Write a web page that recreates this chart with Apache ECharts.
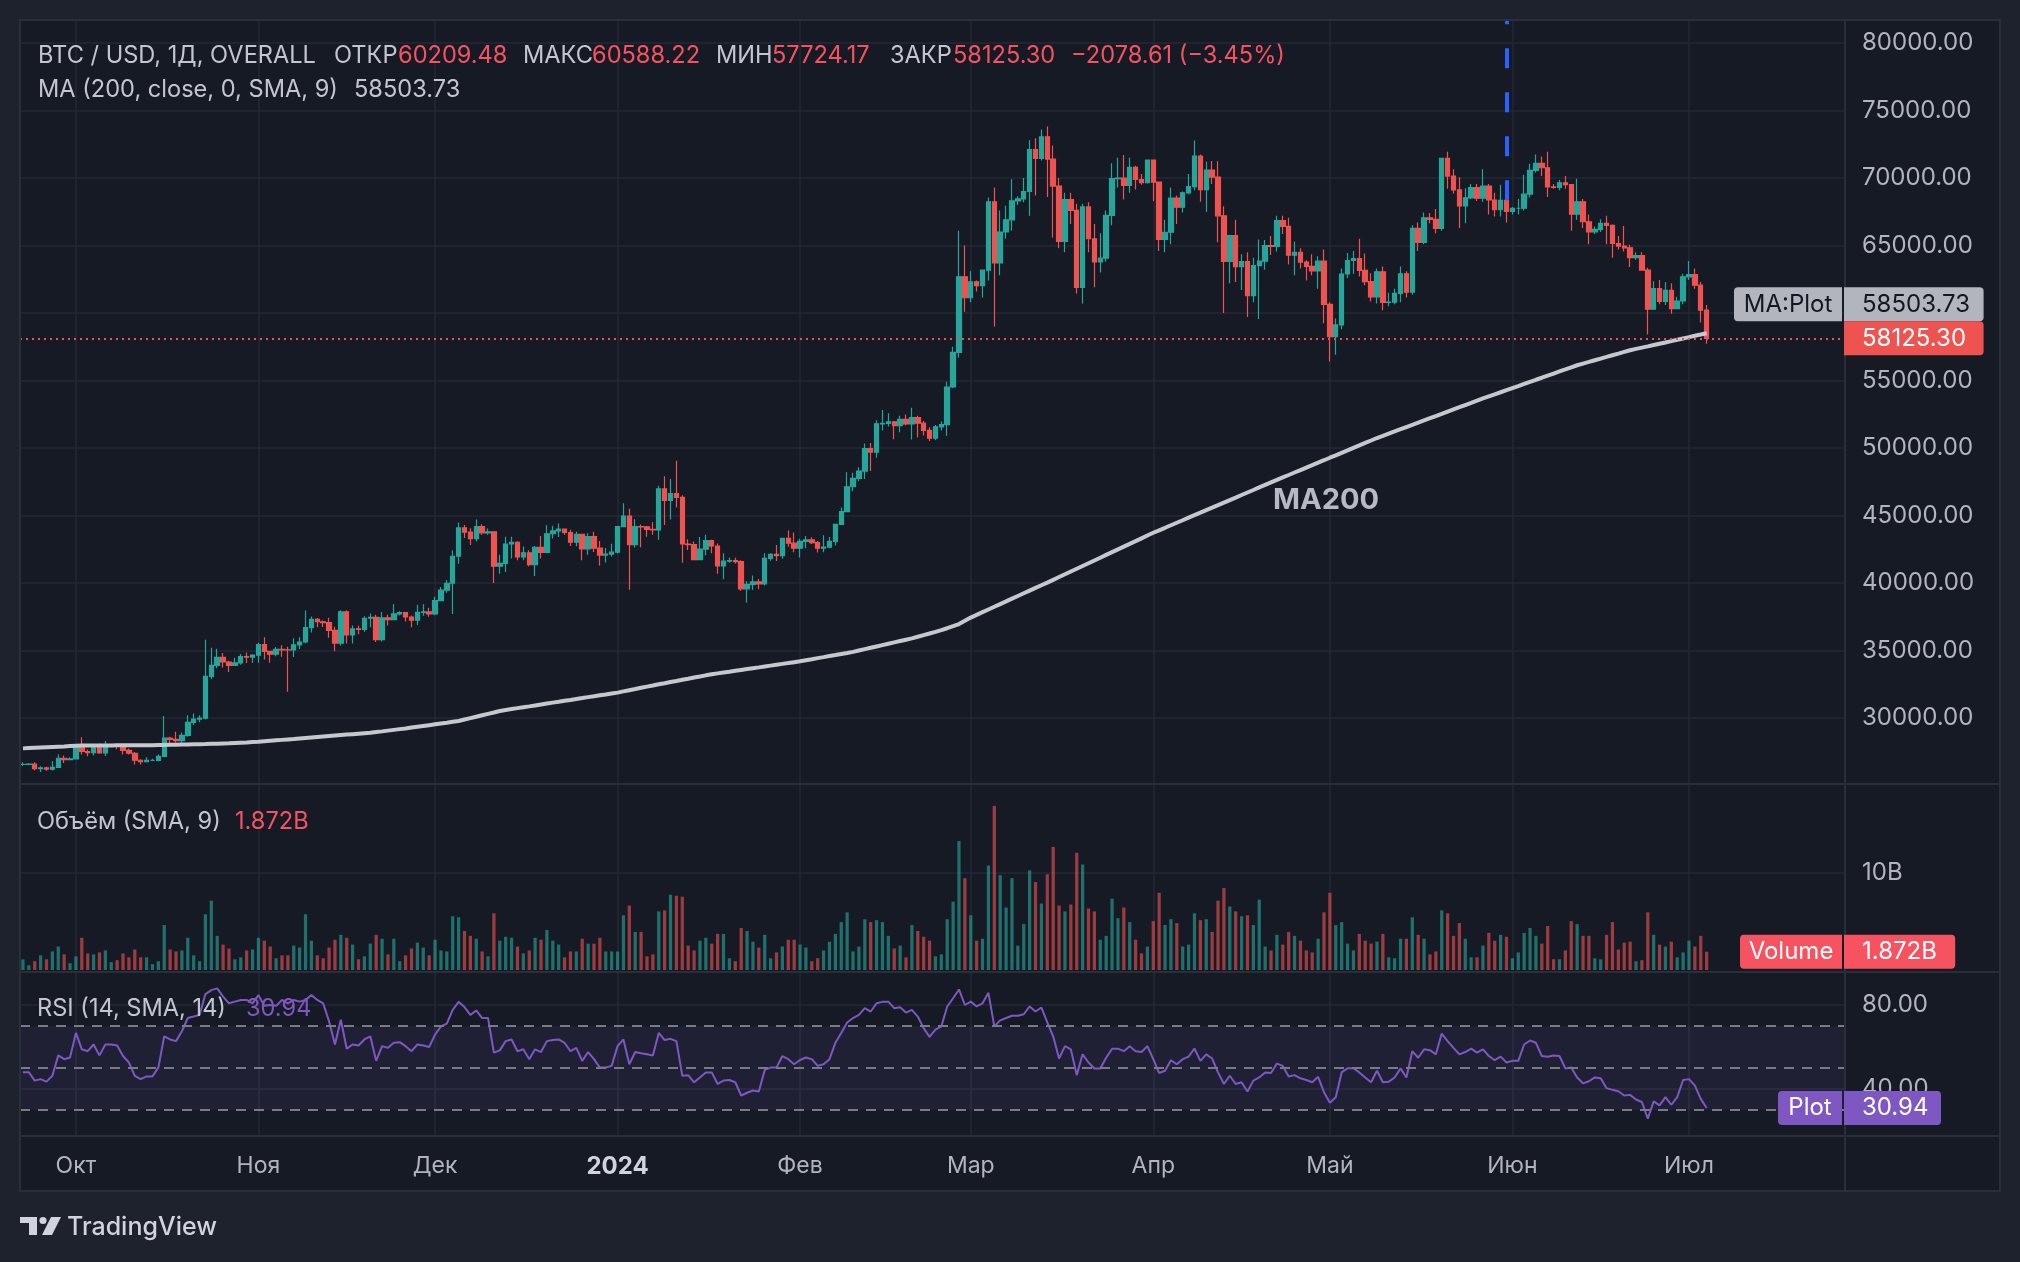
<!DOCTYPE html>
<html>
<head>
<meta charset="utf-8">
<title>BTC / USD</title>
<script src="https://cdn.jsdelivr.net/npm/echarts@6/dist/echarts.min.js"></script>
<style>
html,body{margin:0;padding:0;background:#1e222d;overflow:hidden;}
#chart{width:2020px;height:1262px;}
</style>
</head>
<body>
<div id="chart"></div>
<script>
// ================= DATA =================
const firstDay = '2023-09-22';
const slotCount = 310; // trading days shown + empty space on the right
const monthNames = ['Янв','Фев','Мар','Апр','Май','Июн','Июл','Авг','Сен','Окт','Ноя','Дек'];

const opens = [
26560,26570,26580,26250,26300,26210,26350,27020,26910,
26970,27980,27520,27430,27790,27410,27950,27970,27940,27600,27390,26870,26760,26860,26860,27160,28520,28420,28330,28720,29680,29920,29990,33090,33900,34500,34150,33890,34090,34540,34500,
34660,35440,34940,34730,35080,35050,35040,35420,35630,36700,37310,37130,37070,36490,35550,37860,36150,36600,36570,37390,37460,35800,37420,37290,37720,37800,37480,37250,37830,37860,
37710,38690,39470,39980,41980,44080,43770,43290,44170,43720,43790,41240,41450,42890,43020,41930,42240,41360,42650,42270,43650,43860,43990,43740,43020,43610,42520,43440,42580,42070,42140,
42280,44180,44950,42850,44180,44160,43970,43930,46970,46110,46630,46340,42890,42840,41730,42510,43150,42740,41260,41620,41660,41580,39570,39900,40080,39930,41820,42120,42030,43300,42950,
42580,43080,43190,42990,42580,42660,43090,44340,45290,47130,47750,48290,49960,49700,51790,51830,51940,51660,52120,51780,52260,51840,51300,50730,51570,51730,54520,57090,62680,
61130,62310,62030,63170,68230,63720,66000,66900,68300,68450,69000,72100,71450,73050,71400,69400,65300,68400,67600,61900,67860,65500,63780,64060,67230,69960,69990,69450,70780,69890,69650,
71330,69700,65450,65980,68510,67840,68900,69360,71620,69140,70590,70060,67200,63820,65740,63430,63810,61280,63510,63840,64990,64930,66840,66410,64280,64500,63770,63460,63110,63840,
60640,58250,59120,62890,63890,64030,63160,62330,61190,63050,60790,60800,61450,62900,61550,66270,65230,67050,66940,66270,71450,70140,69120,67930,68530,69290,68500,69400,68370,67650,68350,
67520,67760,67760,68800,70570,71080,70760,69340,69300,69650,69510,67320,68240,66760,66010,66190,66640,66490,65150,64960,64830,64100,64250,63180,60280,61800,60860,61670,60320,60890,
62680,62850,62060,60209.48
];
const highs = [
26730,26640,26720,26420,26390,26820,27290,27220,27090,
28050,28580,27670,27840,28120,28290,28000,28110,27990,27740,27480,26940,27100,26980,27290,30150,28620,28990,28920,30210,30340,30200,35800,35200,35130,34820,34240,34470,34740,34860,34720,
35580,35980,34950,35260,35380,35280,35900,35980,37970,37520,37400,37230,37420,36760,37980,37990,36850,36840,37530,37750,37650,37850,37650,38420,37900,37840,37590,38380,38420,38170,
38990,39700,40230,42420,44490,44300,44050,44700,44350,44040,43800,42100,43430,43420,43090,42710,42420,42750,43480,44280,44240,44400,44020,43950,43800,43610,43680,43800,43120,42600,42900,
44200,45900,45500,44730,44340,44230,44500,47200,47900,47700,49050,46500,43250,43080,43400,43580,43200,42930,42200,41880,41870,41690,40130,40550,40290,42210,42200,42820,43320,43880,43750,
43280,43480,43380,43120,43540,43400,44380,45600,48200,48170,48580,50330,50370,52050,52820,52580,52000,52380,52490,52990,52380,52000,51540,51700,51960,54900,57500,66100,65000,
63100,62400,63230,68550,69290,67600,67950,69900,68650,70000,72800,72950,73600,73820,72400,70000,68900,68900,68100,68100,68200,66600,65900,67600,71100,71500,71700,71500,70900,70300,71350,
71350,69700,66900,69300,68700,69000,70300,72780,71750,71200,71260,71250,67900,65800,66900,64350,64500,64100,65450,65400,65700,67200,67200,67050,65300,64800,63900,64350,64200,64700,
60800,59600,63300,64450,64600,65500,64400,62950,63300,63450,61500,61800,63450,63100,66500,66700,67450,67400,67700,71500,71950,70650,70050,69250,69550,69550,70650,69550,68900,69500,69000,
67850,68450,70250,71050,71750,71600,71950,69550,69850,70150,69550,69950,68450,67300,66400,66950,67200,66550,65700,66450,65050,64500,64500,63350,62350,62450,62300,62200,61200,62900,
63850,63300,62300,60588.22
];
const lows = [
26460,26500,26130,26000,26090,26110,26320,26660,26880,
26960,27290,27160,27220,27360,27180,27850,27690,27290,27300,26560,26560,26700,26810,26800,27110,28100,28160,28180,28620,29480,29680,29890,32880,33690,33750,33400,33880,33950,34080,34070,
34100,34340,34100,34580,34540,31950,34520,35120,35540,36330,36730,36750,35950,34950,35370,35520,35510,36200,36390,36720,35630,35660,36860,37250,37610,37150,36720,36880,37570,37500,
37620,38650,39280,37700,41420,43330,42820,43080,43580,43570,40000,40680,40820,41810,41680,41680,41250,40510,41820,42200,43300,43400,43580,42750,42730,41680,42100,42300,41300,41520,41970,
42180,44150,39500,42630,42640,43420,43580,43200,44300,44700,45600,41500,42440,41720,41720,42050,42200,40680,40280,41500,41450,39430,38550,39490,39530,39820,41640,41630,41800,42690,42280,
41880,42580,42880,42260,42270,42580,42780,44330,45250,46800,47560,47700,48300,49270,51300,51600,50650,51160,51680,50630,50780,50920,50520,50600,51300,50900,54450,56700,60100,
60800,61600,61150,62400,59000,62800,65500,66100,68000,68200,67200,68700,71300,68600,65600,64800,64500,66600,61450,60700,64500,61900,63000,63800,66500,69300,68400,68900,69150,69500,69600,
68300,64600,64500,65100,66600,67450,68800,69100,68250,67500,69550,65250,60000,62200,62300,61700,59700,60800,59550,63200,64300,64550,65850,63600,62800,63300,62400,62800,61800,59250,
56400,56900,58800,62600,62900,62700,62050,60850,60700,60200,60500,60650,60800,61150,61350,64600,65100,66650,65900,66100,69200,68850,66300,66650,68450,68300,68250,67300,67150,67150,66700,
67300,67300,67600,68550,70400,70150,68600,69200,69100,69200,66100,66900,66300,65100,65850,66000,65100,64100,64700,64550,63400,63950,63150,58400,60250,60650,60600,59950,60300,60650,
62450,61800,59300,57724.17
];
const closes = [
26570,26580,26250,26300,26210,26350,27020,26910,26970,
27980,27520,27430,27790,27410,27950,27970,27940,27600,27390,26870,26760,26860,26860,27160,28520,28420,28330,28720,29680,29920,29990,33090,33900,34500,34150,33890,34090,34540,34500,34660,
35440,34940,34730,35080,35050,35040,35420,35630,36700,37310,37130,37070,36490,35550,37860,36150,36600,36570,37390,37460,35800,37420,37290,37720,37800,37480,37250,37830,37860,37710,
38690,39470,39980,41980,44080,43770,43290,44170,43720,43790,41240,41450,42890,43020,41930,42240,41360,42650,42270,43650,43860,43990,43740,43020,43610,42520,43440,42580,42070,42140,42280,
44180,44950,42850,44180,44160,43970,43930,46970,46110,46630,46340,42890,42840,41730,42510,43150,42740,41260,41620,41660,41580,39570,39900,40080,39930,41820,42120,42030,43300,42950,42580,
43080,43190,42990,42580,42660,43090,44340,45290,47130,47750,48290,49960,49700,51790,51830,51940,51660,52120,51780,52260,51840,51300,50730,51570,51730,54520,57090,62680,61130,
62310,62030,63170,68230,63720,66000,66900,68300,68450,69000,72100,71450,73050,71400,69400,65300,68400,67600,61900,67860,65500,63780,64060,67230,69960,69990,69450,70780,69890,69650,71330,
69700,65450,65980,68510,67840,68900,69360,71620,69140,70590,70060,67200,63820,65740,63430,63810,61280,63510,63840,64990,64930,66840,66410,64280,64500,63770,63460,63110,63840,60640,
58250,59120,62890,63890,64030,63160,62330,61190,63050,60790,60800,61450,62900,61550,66270,65230,67050,66940,66270,71450,70140,69120,67930,68530,69290,68500,69400,68370,67650,68350,67520,
67760,67760,68800,70570,71080,70760,69340,69300,69650,69510,67320,68240,66760,66010,66190,66640,66490,65150,64960,64830,64100,64250,63180,60280,61800,60860,61670,60320,60890,62680,
62850,62060,60209.48,58125.30
];
// volume in billions USD
const volumes = [
1.09,0.48,0.9,1.5,1.1,1.9,2.4,1.6,0.7,1.4,
3.3,1.7,1.6,1.8,2.0,0.8,1.0,1.7,1.3,2.1,
1.3,1.3,0.6,0.9,4.6,2.1,1.9,2.0,3.3,1.5,
0.9,5.7,7.1,3.5,2.6,2.2,1.1,1.3,2.0,2.1,
3.3,3.0,2.4,1.2,1.5,1.5,2.5,2.3,5.7,3.0,
1.5,1.2,2.3,3.1,3.6,3.3,2.6,1.1,1.4,2.7,
3.6,3.2,1.6,3.2,0.9,1.5,2.2,2.8,2.3,1.5,
3.1,2.0,1.9,5.5,5.4,4.0,3.5,3.2,1.9,1.4,
5.8,3.0,3.4,3.3,2.4,1.7,2.0,3.3,3.1,4.1,
3.0,2.6,1.3,1.9,1.9,3.2,2.7,2.7,3.3,1.9,
1.9,1.9,5.6,6.6,3.9,3.9,1.4,1.6,6.0,6.1,
7.7,7.6,7.5,2.5,2.0,3.0,3.3,2.7,3.7,3.7,
1.2,0.9,4.3,4.0,2.9,2.3,3.6,1.2,1.8,2.4,
3.1,3.1,2.6,2.3,0.9,1.2,2.0,2.9,3.7,4.9,
5.9,1.9,2.4,5.2,4.9,5.1,4.9,3.5,2.2,2.5,
1.3,4.6,
4.0,3.4,3.0,1.4,1.6,5.2,7.0,13.2,9.4,5.6,
3.0,3.2,10.7,16.8,9.7,6.4,9.4,2.5,4.7,10.2,
9.0,6.8,9.8,12.6,6.6,6.0,6.7,12.0,10.8,6.3,
6.0,3.1,3.5,7.3,5.3,6.4,4.9,3.1,1.7,2.4,
5.0,7.9,4.6,5.2,4.8,2.4,2.6,5.8,5.1,5.2,
3.9,7.1,8.4,6.5,6.0,5.5,5.6,4.6,7.2,2.4,
2.0,3.6,2.6,3.9,3.5,3.0,2.0,1.8,3.2,5.9,
7.9,4.6,4.9,2.7,2.0,3.7,3.0,2.7,2.9,3.7,
1.3,1.2,3.2,3.2,5.4,3.6,3.2,1.6,1.9,6.1,
5.8,3.5,4.8,3.2,1.3,1.3,2.5,3.8,3.0,3.6,
3.4,1.2,1.8,3.8,4.3,3.5,2.7,4.5,1.1,1.1,
2.0,5.0,4.7,3.5,3.5,1.2,1.1,3.6,4.9,2.1,
2.8,2.9,0.9,1.0,5.9,3.6,2.6,2.4,2.9,1.3,
1.8,3.0,2.4,3.5,1.872
];
// MA (200, close)
const ma200 = [
27750,27770,27790,27810,27830,27850,27870,27890,27920,27950,
27955,27960,27960,27965,27970,27970,27975,27975,27980,27980,27985,27990,27990,27995,28000,
28010,28020,28030,28040,28050,28060,28070,28085,28100,28115,28130,28150,28170,28190,28215,28240,
28275,28310,28345,28380,28415,28450,28490,
28525,28560,28595,28630,28665,28700,28735,28770,28805,28840,28875,28910,
28960,29010,29065,29120,29175,29230,29290,29350,29410,29470,29530,
29590,29650,29715,29780,
29885,29990,30095,30200,30305,30410,30520,
30590,30660,30730,30795,30860,30930,31000,31070,
31140,31205,31275,31340,31410,31475,31545,31610,31680,31745,31815,31880,
31970,32060,32145,32235,32325,32410,32500,
32580,32665,32745,32830,32910,32995,33075,33160,33240,
33305,33370,33430,33495,33560,33625,33690,33750,33815,33880,33945,34010,34070,34135,34200,
34280,34355,34435,34510,34590,34665,34745,34820,34900,
35000,35100,35200,35300,35400,35500,35600,35700,35800,35900,
36020,36140,36260,36380,36510,36650,36800,36960,37200,37440,
37640,37840,38040,38240,38440,38640,38840,39040,39240,39440,39640,39835,40030,
40235,40440,40645,40850,41055,41260,41465,41670,41875,42080,42285,42490,42695,42900,43105,43310,43515,43720,
43905,44090,44280,44465,44650,44840,45025,45210,45400,45585,45770,45960,46145,46330,46520,46705,46890,47080,47265,47450,47635,47820,48000,
48185,48365,48550,48730,48915,49095,49280,49460,49645,49825,50010,50190,50375,50555,50740,
50900,51065,51230,51390,51555,51720,51880,52045,52205,52370,52530,52695,52860,53020,53185,53345,53510,53670,
53825,53980,54130,54285,54440,54590,54745,54900,55055,55205,55360,55515,55670,55820,55975,56130,
56255,56375,56500,56625,56745,56870,56990,57115,57240,
57340,57435,57530,57630,57725,57820,57920,58015,58115,58210,58310,58405,58503.73
];
// RSI (14, SMA, 14)
const rsi = [
48.0,48.0,44.0,44.7,43.5,46.3,56.0,54.2,55.0,66.7,
58.9,58.0,61.2,56.0,61.2,61.2,60.7,55.7,52.6,46.3,
44.7,46.0,46.0,50.2,65.1,63.6,62.8,67.5,73.8,74.5,
75.3,85.2,87.1,87.9,84.0,80.8,81.6,82.4,82.4,80.8,
84.7,79.6,80.0,79.6,82.4,80.8,82.4,81.6,82.4,84.7,
82.4,80.8,72.2,61.2,73.0,59.2,61.2,60.7,63.6,65.1,
53.4,60.4,59.6,62.0,62.3,60.4,58.0,61.2,60.7,60.0,
65.9,69.8,71.1,77.7,81.5,79.0,75.3,77.4,73.8,73.8,
57.3,58.4,62.8,63.6,58.0,58.9,54.2,58.9,57.6,62.8,
63.3,63.6,62.0,58.0,59.6,53.4,57.6,54.2,50.2,50.2,
51.0,60.4,63.6,51.8,57.6,57.0,56.5,56.0,66.7,63.3,
63.9,62.8,46.3,46.6,43.2,45.5,47.9,47.9,42.4,44.0,
44.3,43.2,36.9,38.2,39.3,38.8,49.1,50.2,50.2,55.7,
54.2,51.8,53.8,55.0,54.2,51.0,51.8,54.2,62.0,66.7,
71.7,73.8,75.3,78.5,76.9,80.8,81.5,81.6,78.5,78.9,
76.4,77.7,
74.5,69.0,64.8,68.3,69.8,79.3,83.2,87.4,80.0,81.6,
79.3,80.8,85.8,69.8,72.7,73.8,74.9,74.9,75.6,79.3,
76.9,78.8,71.7,65.1,54.5,60.4,58.9,46.6,56.5,52.6,
49.8,49.8,54.9,59.2,59.2,58.0,60.4,58.0,57.6,60.4,
54.2,47.6,48.7,53.7,51.8,54.2,55.4,59.3,53.4,56.5,
54.5,47.9,42.4,46.3,42.4,43.2,38.8,44.0,45.5,47.9,
47.6,52.1,51.0,46.0,46.6,45.1,44.3,43.2,45.8,38.5,
33.5,36.1,47.9,49.9,49.9,47.9,45.5,43.2,48.7,43.2,
43.5,45.5,49.8,45.5,58.0,54.9,58.9,58.5,56.5,66.4,
62.8,59.6,56.5,57.6,59.2,57.3,58.9,55.7,53.7,55.4,
52.6,53.4,53.4,61.2,63.1,62.0,55.7,55.4,56.0,55.7,
49.8,50.2,45.5,42.7,43.7,45.5,45.1,40.4,39.6,38.9,
36.9,37.2,35.0,33.8,25.9,34.1,32.2,36.1,32.5,36.1,
44.3,44.7,41.6,35.3,30.94
];
const rsiLevels = [70, 50, 30];
const markerDate = '2024-05-31';   // blue vertical drawing
const headerChange = '−2078.61 (−3.45%)';

// ================= CHECK =================
const N = closes.length;
[['opens',opens],['highs',highs],['lows',lows],['volumes',volumes],['ma200',ma200],['rsi',rsi]].forEach(([n,a])=>{
  if (a.length !== N) throw new Error('length mismatch ' + n + ' ' + a.length + ' vs ' + N);
});

// ================= CATEGORIES =================
const dates = [];
{
  const d0 = new Date(firstDay + 'T00:00:00Z');
  for (let i = 0; i < slotCount; i++) {
    const d = new Date(d0.getTime() + i * 86400000);
    dates.push(d.toISOString().slice(0, 10));
  }
}
const isMonthStart = (idx, val) => (val || dates[idx]).slice(8) === '01';

// ================= STYLE =================
const FONT = 'Inter, "Noto Sans", Roboto, sans-serif';
const UP = '#26a69a', DOWN = '#ef5350';
const UP_VOL = 'rgba(38,166,154,0.62)', DOWN_VOL = 'rgba(239,83,80,0.62)';
const GRIDLINE = '#242834';
const AXIS_TXT = '#b2b5be';
const PANEL = '#161a25', OUTER = '#1e222d', BORDER = '#2a2e39';
const L = 20, W = 1825;
const PRICE_MIN = 25000, PRICE_MAX = 81704;   // visible price range of the main pane
const HF = 23.6; // legend font size

const candleData = closes.map((c, i) => [opens[i], c, lows[i], highs[i]]);
const volData = volumes.map((v, i) => ({ value: v, itemStyle: { color: closes[i] >= opens[i] ? UP_VOL : DOWN_VOL } }));
const iMark = dates.indexOf(markerDate);

const vSplit = { show: true, interval: isMonthStart, alignWithLabel: true, lineStyle: { color: GRIDLINE, width: 1.5 } };

const option = {
  backgroundColor: PANEL,
  animation: false,
  textStyle: { fontFamily: FONT },
  grid: [
    { left: L, width: W, top: 20, height: 765.5 },    // price
    { left: L, width: W, top: 784, height: 186 },     // volume (0..19.04B)
    { left: L, width: W, top: 921, height: 252 },     // RSI    (0..120)
    { left: L, width: W, top: 972, height: 164 }      // RSI frame + time labels
  ],
  xAxis: [0, 1, 2, 3].map(i => ({
    type: 'category', gridIndex: i, data: dates, boundaryGap: true,
    axisLine: { show: false }, axisTick: { show: false },
    axisLabel: i === 3 ? {
      show: true, interval: isMonthStart, margin: 19, hideOverlap: false,
      color: AXIS_TXT, fontSize: 23, fontFamily: FONT,
      formatter: v => { const m = +v.slice(5, 7); return m === 1 ? '{y|' + v.slice(0, 4) + '}' : monthNames[m - 1]; },
      rich: { y: { fontWeight: 'bold', fontSize: 24, color: '#d1d4dc', fontFamily: FONT } }
    } : { show: false },
    splitLine: i === 2 ? { show: false } : vSplit
  })),
  yAxis: [
    { type: 'value', gridIndex: 0, position: 'right', min: PRICE_MIN, max: PRICE_MAX, interval: 5000,
      axisLine: { show: false }, axisTick: { show: false },
      axisLabel: { margin: 17, fontSize: 24, color: AXIS_TXT, fontFamily: FONT, showMinLabel: false, showMaxLabel: false,
        formatter: v => v.toFixed(2) },
      splitLine: { show: true, showMinLine: false, showMaxLine: false, lineStyle: { color: GRIDLINE, width: 1.5 } } },
    { type: 'value', gridIndex: 1, position: 'right', min: 0, max: 19.04, interval: 10,
      axisLine: { show: false }, axisTick: { show: false },
      axisLabel: { margin: 17, fontSize: 24, color: AXIS_TXT, fontFamily: FONT, showMinLabel: false, showMaxLabel: false,
        formatter: v => v + 'B' },
      splitLine: { show: true, showMinLine: false, showMaxLine: false, lineStyle: { color: GRIDLINE, width: 1.5 } } },
    { type: 'value', gridIndex: 2, position: 'right', min: 0, max: 120, interval: 40,
      axisLine: { show: false }, axisTick: { show: false },
      axisLabel: { margin: 17, fontSize: 24, color: AXIS_TXT, fontFamily: FONT, showMinLabel: false, showMaxLabel: false,
        formatter: v => v.toFixed(2) },
      splitLine: { show: true, showMinLine: false, showMaxLine: false, lineStyle: { color: GRIDLINE, width: 1.5 } } },
    { type: 'value', gridIndex: 3, show: false, min: 0, max: 1 }
  ],
  series: [
    {
      name: 'BTC', type: 'candlestick', xAxisIndex: 0, yAxisIndex: 0, data: candleData, barWidth: '84%',
      itemStyle: { color: UP, color0: DOWN, borderColor: UP, borderColor0: DOWN, borderWidth: 1.2 },
      markLine: {
        silent: true, symbol: ['none', 'none'], label: { show: false }, animation: false,
        data: [
          { yAxis: closes[N - 1], lineStyle: { color: DOWN, type: [2, 4], width: 2 } },
          [ { coord: [dates[iMark], opens[iMark]], lineStyle: { color: '#2962ff', type: [20, 24], width: 4 } },
            { coord: [dates[iMark], PRICE_MAX], lineStyle: { color: '#2962ff', type: [20, 24], width: 4 } } ]
        ]
      }
    },
    {
      name: 'MA', type: 'line', xAxisIndex: 0, yAxisIndex: 0, data: ma200, symbol: 'none', smooth: false,
      lineStyle: { color: '#c6c8d0', width: 4 }, z: 3
    },
    {
      name: 'Volume', type: 'bar', xAxisIndex: 1, yAxisIndex: 1, data: volData, barWidth: '55%'
    },
    {
      name: 'RSI', type: 'line', xAxisIndex: 2, yAxisIndex: 2, data: rsi, symbol: 'none',
      lineStyle: { color: '#7e57c2', width: 2 },
      markArea: { silent: true, itemStyle: { color: 'rgba(126,87,194,0.10)' }, data: [[{ yAxis: rsiLevels[2] }, { yAxis: rsiLevels[0] }]] },
      markLine: { silent: true, symbol: ['none', 'none'], label: { show: false },
        lineStyle: { color: '#787b86', type: [10, 8], width: 2 },
        data: rsiLevels.map(v => ({ yAxis: v })) }
    }
  ]
};

const chart = echarts.init(document.getElementById('chart'), null, { renderer: 'canvas', width: 2020, height: 1262 });
chart.setOption(option);

// ================= OVERLAYS (frame, legends, price tags) =================
const yClose = chart.convertToPixel({ yAxisIndex: 0 }, closes[N - 1]);
const yVol = chart.convertToPixel({ yAxisIndex: 1 }, volumes[N - 1]);
const yRsi = chart.convertToPixel({ yAxisIndex: 2 }, rsi[N - 1]);

const Z = 100;
function txt(x, y, s, fill, size, weight, align) {
  return { type: 'text', x: x, y: y, z: Z + 2, silent: true,
    style: { text: s, fill: fill, fontSize: size, fontFamily: FONT, fontWeight: weight || 'normal',
      textAlign: align || 'left', align: align || 'left', textVerticalAlign: 'middle', verticalAlign: 'middle' } };
}
function rect(x, y, w, h, fill, r) {
  return { type: 'rect', z: Z + 1, silent: true, shape: { x: x, y: y, width: w, height: h, r: r || 0 }, style: { fill: fill } };
}
function line(x1, y1, x2, y2) {
  return { type: 'line', z: Z, silent: true, shape: { x1: x1, y1: y1, x2: x2, y2: y2 }, style: { stroke: BORDER, lineWidth: 2 } };
}
function tag(xName, wName, yc, fill, name, value, textFill) {
  const h = 34;
  const out = [];
  if (name) {
    out.push(rect(xName, yc - h / 2, wName, h, fill, [4, 0, 0, 4]));
    out.push(txt(xName + wName / 2, yc, name, textFill, 24, 'normal', 'center'));
  }
  const wv = value.length * 14.2 + 26;
  out.push(rect(1844, yc - h / 2, wv, h, fill, [0, 4, 4, 0]));
  out.push(txt(1862, yc, value, textFill, 24, 'normal', 'left'));
  return out;
}

const fmt = v => v.toFixed(2);
const G = [];
// outer margins
G.push({ type: 'rect', z: Z - 1, silent: true, shape: { x: 0, y: 0, width: 2020, height: 20 }, style: { fill: OUTER } });
G.push({ type: 'rect', z: Z - 1, silent: true, shape: { x: 0, y: 0, width: 20, height: 1262 }, style: { fill: OUTER } });
G.push({ type: 'rect', z: Z - 1, silent: true, shape: { x: 2000, y: 0, width: 20, height: 1262 }, style: { fill: OUTER } });
G.push({ type: 'rect', z: Z - 1, silent: true, shape: { x: 0, y: 1191, width: 2020, height: 71 }, style: { fill: OUTER } });
// frame & pane separators
G.push({ type: 'rect', z: Z, silent: true, shape: { x: 20, y: 20, width: 1980, height: 1171 }, style: { fill: 'none', stroke: BORDER, lineWidth: 2 } });
G.push(line(1845, 20, 1845, 1191));
G.push(line(20, 784, 2000, 784));
G.push(line(20, 972, 2000, 972));
G.push(line(20, 1136, 2000, 1136));

// header legend
const LG = '#c3c6ce', RED = '#f7525f';
G.push(txt(38, 56, 'BTC / USD, 1Д, OVERALL', LG, HF));
G.push(txt(334, 56, 'ОТКР', LG, HF)); G.push(txt(398, 56, fmt(opens[N - 1]), RED, HF));
G.push(txt(523, 56, 'МАКС', LG, HF)); G.push(txt(592, 56, fmt(highs[N - 1]), RED, HF));
G.push(txt(716, 56, 'МИН', LG, HF)); G.push(txt(772, 56, fmt(lows[N - 1]), RED, HF));
G.push(txt(890, 56, 'ЗАКР', LG, HF)); G.push(txt(953, 56, fmt(closes[N - 1]), RED, HF));
G.push(txt(1071, 56, headerChange, RED, HF));
G.push(txt(38, 90, 'MA (200, close, 0, SMA, 9)', LG, HF)); G.push(txt(354, 90, fmt(ma200[N - 1]), LG, HF));
// pane legends
G.push(txt(37, 822, 'Объём (SMA, 9)', LG, HF)); G.push(txt(235, 822, volumes[N - 1].toFixed(3) + 'B', RED, HF));
G.push(txt(37, 1009, 'RSI (14, SMA, 14)', LG, HF)); G.push(txt(246, 1009, rsi[N - 1].toFixed(2), '#7e57c2', HF));
// MA200 chart label
G.push(txt(1273, 500, 'MA200', '#b7bac3', 29, 'bold'));

// price-scale tags
tag(1734, 108, yClose - 34, '#b2b5be', 'MA:Plot', fmt(ma200[N - 1]), '#131722').forEach(e => G.push(e));
tag(0, 0, yClose, DOWN, null, fmt(closes[N - 1]), '#ffffff').forEach(e => G.push(e));
tag(1740, 102, yVol, RED, 'Volume', volumes[N - 1].toFixed(3) + 'B', '#ffffff').forEach(e => G.push(e));
tag(1778, 64, yRsi, '#7e57c2', 'Plot', rsi[N - 1].toFixed(2), '#ffffff').forEach(e => G.push(e));

// TradingView logo
const LOGO = '#d1d4dc';
G.push({ type: 'rect', z: Z + 1, silent: true, shape: { x: 20, y: 1217, width: 17, height: 6 }, style: { fill: LOGO } });
G.push({ type: 'rect', z: Z + 1, silent: true, shape: { x: 29, y: 1217, width: 8, height: 18 }, style: { fill: LOGO } });
G.push({ type: 'circle', z: Z + 1, silent: true, shape: { cx: 43, cy: 1220.5, r: 3.6 }, style: { fill: LOGO } });
G.push({ type: 'polygon', z: Z + 1, silent: true, shape: { points: [[51, 1217], [61, 1217], [52, 1235], [42, 1235]] }, style: { fill: LOGO } });
G.push(txt(67, 1227, 'TradingView', LOGO, 25, 500));

chart.setOption({ graphic: { elements: G } });
</script>
</body>
</html>
